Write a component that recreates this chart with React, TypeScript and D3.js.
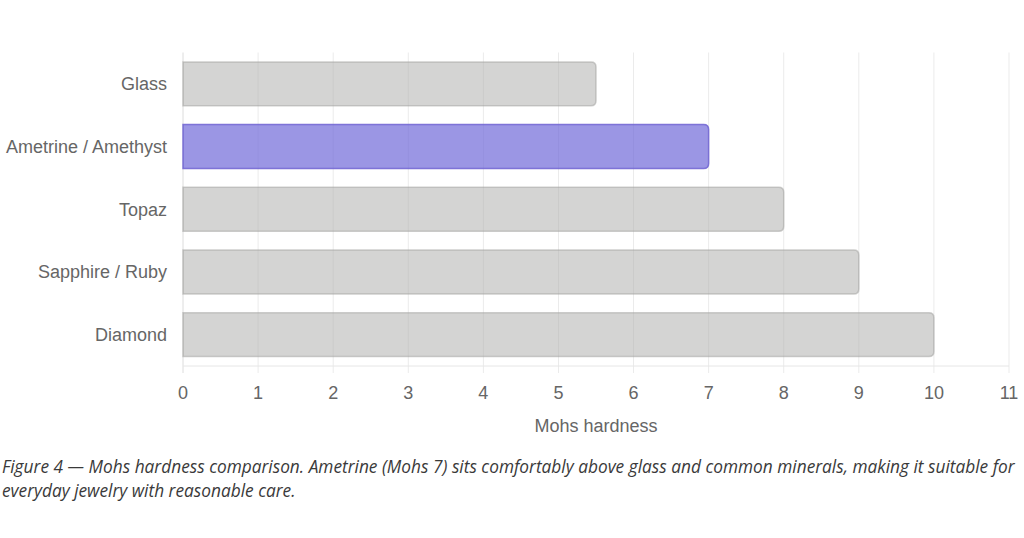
import React, { useRef, useEffect } from "react";
import * as d3 from "d3";

// Kategorien und Werte (Mohs-Härte)
const minerals = ["Glass", "Ametrine / Amethyst", "Topaz", "Sapphire / Ruby", "Diamond"];
const hardness = [5.5, 7, 8, 9, 10];
const highlighted = "Ametrine / Amethyst";
const xTicks = [0, 1, 2, 3, 4, 5, 6, 7, 8, 9, 10, 11];
const axisTitle = "Mohs hardness";
const captionLines = [
    "Figure 4 \u2014 Mohs hardness comparison. Ametrine (Mohs 7) sits comfortably above glass and common minerals, making it suitable for",
    "everyday jewelry with reasonable care.",
];

export default function App() {
    const ref = useRef<SVGSVGElement | null>(null);

    useEffect(() => {
        if (!ref.current) return;
        const svg = d3.select(ref.current);
        svg.selectAll("*").remove();

        const W = 1024;
        const H = 538;
        const margin = { top: 52.5, right: 15, bottom: 172, left: 183 };
        const width = W - margin.left - margin.right;
        const height = H - margin.top - margin.bottom;

        svg.attr("width", W).attr("height", H);

        const g = svg.append("g").attr("transform", `translate(${margin.left},${margin.top})`);

        const x = d3.scaleLinear().domain([0, 11]).range([0, width]);
        const y = d3
            .scaleBand<string>()
            .domain(minerals)
            .range([0, height])
            .paddingInner(0.3)
            .paddingOuter(0.15);

        // Gitterlinien
        g.append("g")
            .selectAll("line")
            .data(xTicks)
            .enter()
            .append("line")
            .attr("x1", (d) => x(d))
            .attr("x2", (d) => x(d))
            .attr("y1", 0)
            .attr("y2", height + 7)
            .attr("stroke", (d) => (d === 0 ? "#dcdcdc" : "#ebebeb"))
            .attr("stroke-width", 1);

        // Achsenlinie unten
        g.append("line")
            .attr("x1", 0)
            .attr("x2", width)
            .attr("y1", height)
            .attr("y2", height)
            .attr("stroke", "#e6e6e6");

        const data = minerals.map((m, i) => ({ name: m, value: hardness[i] }));

        // Balken mit rechts abgerundeten Ecken
        const r = 5;
        const barPath = (d: { name: string; value: number }) => {
            const x0 = x(0);
            const x1 = x(d.value);
            const y0 = y(d.name)!;
            const h = y.bandwidth();
            return `M${x0},${y0}H${x1 - r}Q${x1},${y0} ${x1},${y0 + r}V${y0 + h - r}Q${x1},${y0 + h} ${x1 - r},${y0 + h}H${x0}Z`;
        };

        g.append("g")
            .selectAll("path")
            .data(data)
            .enter()
            .append("path")
            .attr("d", barPath)
            .attr("fill", (d) => (d.name === highlighted ? "rgba(112,105,216,0.7)" : "rgba(177,177,175,0.55)"))
            .attr("stroke", (d) => (d.name === highlighted ? "rgba(112,100,210,0.85)" : "rgba(160,160,158,0.5)"))
            .attr("stroke-width", 1.5);

        // Kategorien-Beschriftung
        g.append("g")
            .selectAll("text")
            .data(minerals)
            .enter()
            .append("text")
            .attr("x", -16)
            .attr("y", (d) => y(d)! + y.bandwidth() / 2)
            .attr("dy", "0.35em")
            .attr("text-anchor", "end")
            .attr("font-family", "Liberation Sans, Arial, sans-serif")
            .attr("font-size", 18)
            .attr("fill", "#666")
            .text((d) => d);

        // x-Achse Ticks
        g.append("g")
            .selectAll("text")
            .data(xTicks)
            .enter()
            .append("text")
            .attr("x", (d) => x(d))
            .attr("y", height + 33)
            .attr("text-anchor", "middle")
            .attr("font-family", "Liberation Sans, Arial, sans-serif")
            .attr("font-size", 18)
            .attr("fill", "#666")
            .text((d) => d);

        // Achsentitel
        g.append("text")
            .attr("x", width / 2)
            .attr("y", height + 65.5)
            .attr("text-anchor", "middle")
            .attr("font-family", "Liberation Sans, Arial, sans-serif")
            .attr("font-size", 18)
            .attr("fill", "#666")
            .text(axisTitle);

        // Bildunterschrift
        svg.append("g")
            .selectAll("text")
            .data(captionLines)
            .enter()
            .append("text")
            .attr("x", 2)
            .attr("y", (d, i) => 473 + i * 24)
            .attr("font-family", "Open Sans, sans-serif")
            .attr("font-style", "italic")
            .attr("font-size", 17.3)
            .attr("fill", "#3a3a3a")
            .text((d) => d);
    }, []);

    return (
        <div style={{ position: "absolute", left: 0, top: 0 }}>
            <svg ref={ref} style={{ display: "block" }} />
        </div>
    );
}
